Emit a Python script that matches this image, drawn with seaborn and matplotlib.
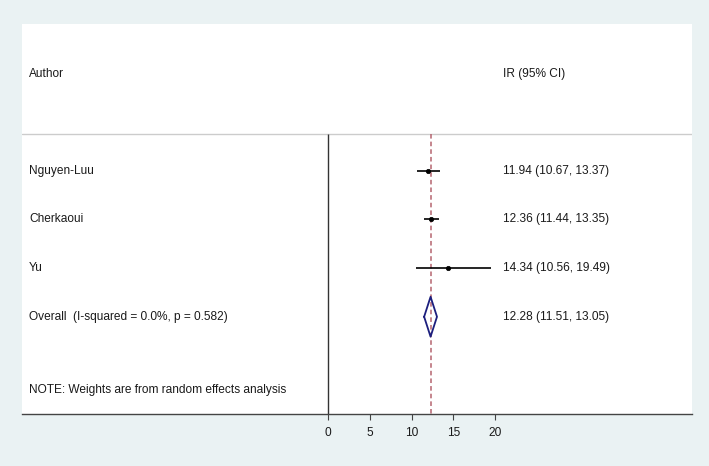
import numpy as np
import pandas as pd
import matplotlib
matplotlib.use('Agg')
import matplotlib.pyplot as plt
import matplotlib.transforms as mtransforms
import seaborn as sns

# study data
authors = ['Nguyen-Luu', 'Cherkaoui', 'Yu']
ir = [11.94, 12.36, 14.34]
ci_low = [10.67, 11.44, 10.56]
ci_high = [13.37, 13.35, 19.49]

# pooled estimate
overall_label = 'Overall  (I-squared = 0.0%, p = 0.582)'
overall_ir = 12.28
overall_low = 11.51
overall_high = 13.05

note = 'NOTE: Weights are from random effects analysis'
xticks = [0, 5, 10, 15, 20]

df = pd.DataFrame({'author': authors, 'ir': ir, 'lo': ci_low, 'hi': ci_high})
df['row'] = np.arange(len(df))
overall_row = len(df)

sns.set_theme(style='white')
plt.rcParams['font.family'] = ['Liberation Sans', 'DejaVu Sans']

fig = plt.figure(figsize=(7.09, 4.66), dpi=100, facecolor='#eaf2f3')
ax = fig.add_axes([22/709, 1 - 414/466, 670/709, 390/466])
ax.set_facecolor('white')

# confidence intervals and point estimates
ax.hlines(df['row'], df['lo'], df['hi'], color='black', lw=1.2, zorder=3)
sns.scatterplot(data=df, x='ir', y='row', ax=ax, color='black', marker='o',
                s=10, edgecolor='black', linewidth=0.5, zorder=4, legend=False)

# no-effect line and overall line
ax.vlines(0, -0.75, 5, color='#333333', lw=1.0, zorder=2)
ax.vlines(overall_ir, -0.75, 5, color='#b5646f', lw=1.1, ls=(0, (3, 2)), zorder=2)

# pooled diamond
dx = [overall_low, overall_ir, overall_high, overall_ir, overall_low]
dy = [overall_row, overall_row - 0.41, overall_row, overall_row + 0.41, overall_row]
ax.plot(dx, dy, color='#1c1f7e', lw=1.3, zorder=5)

# header separator
ax.axhline(-0.75, color='#cccccc', lw=1.0, zorder=1)

# text columns
trans = mtransforms.blended_transform_factory(ax.transAxes, ax.transData)
fs = 8.6
tc = '#1a1a1a'
ax.text(0.0105, -2, 'Author', transform=trans, va='center', fontsize=fs, color=tc)
ax.text(0.718, -2, 'IR (95% CI)', transform=trans, va='center', fontsize=fs, color=tc)
for r, a, e, l, h in zip(df['row'], authors, ir, ci_low, ci_high):
    ax.text(0.0105, r, a, transform=trans, va='center', fontsize=fs, color=tc)
    ax.text(0.718, r, f'{e:.2f} ({l:.2f}, {h:.2f})', transform=trans, va='center',
            fontsize=fs, color=tc)
ax.text(0.0105, overall_row, overall_label, transform=trans, va='center', fontsize=fs, color=tc)
ax.text(0.718, overall_row, f'{overall_ir:.2f} ({overall_low:.2f}, {overall_high:.2f})',
        transform=trans, va='center', fontsize=fs, color=tc)
ax.text(0.0105, 4.5, note, transform=trans, va='center', fontsize=fs, color=tc)

ax.set_xlim(-36.65, 43.59)
ax.set_ylim(5, -3.02)
ax.set_xticks(xticks)
ax.set_yticks([])
ax.set_xlabel('')
ax.set_ylabel('')
for s in ['top', 'left', 'right']:
    ax.spines[s].set_visible(False)
ax.spines['bottom'].set_color('#444444')
ax.spines['bottom'].set_linewidth(1.0)
ax.tick_params(axis='x', direction='out', length=4, width=0.8, color='#444444',
               labelsize=fs, labelcolor=tc, pad=5, bottom=True)

fig.savefig('out.png', dpi=100, facecolor=fig.get_facecolor())
